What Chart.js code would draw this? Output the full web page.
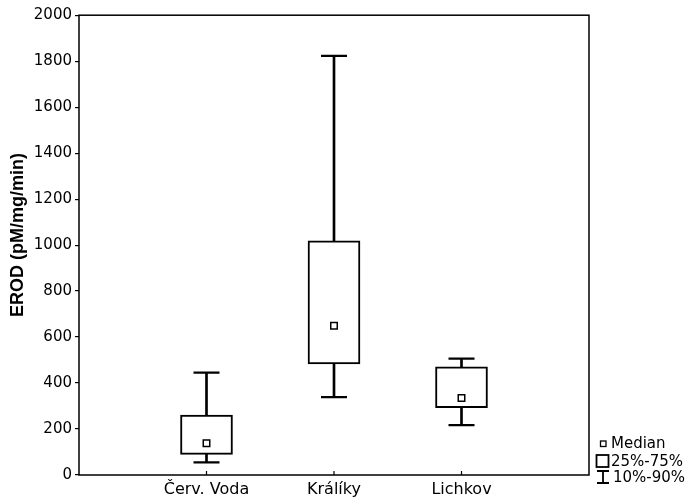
<!DOCTYPE html>
<html>
<head>
<meta charset="utf-8">
<script src="https://cdn.jsdelivr.net/npm/chart.js@4.4.1/dist/chart.umd.min.js"></script>
<style>
  html, body { margin: 0; padding: 0; background: #fff; }
  #wrap { width: 687px; height: 502px; }
</style>
</head>
<body>
<div id="wrap"><canvas id="erodChart"></canvas></div>
<script>
var categories = ['Červ. Voda', 'Králíky', 'Lichkov'];
var p10 = [55, 339, 217];
var p25 = [90, 483, 293];
var medians = [138, 649, 335];
var p75 = [261, 1019, 471];
var p90 = [445, 1823, 506];
var yTicks = [0, 200, 400, 600, 800, 1000, 1200, 1400, 1600, 1800, 2000];
var yTitle = 'EROD (pM/mg/min)';

var fontName = '"DejaVu Sans", Verdana, sans-serif';
var titleFont = 'bold 18px "Liberation Sans", Arial, Helvetica, sans-serif';

// frame round the plot, inward x ticks, y title and the legend on the right
var framePlugin = {
    id: 'frame',
    afterDraw: function (chart) {
        var ctx = chart.ctx;
        var a = chart.chartArea;
        var xs = chart.scales.x;
        ctx.save();
        ctx.strokeStyle = '#000';
        ctx.lineWidth = 1.5;
        ctx.strokeRect(a.left, a.top, a.right - a.left, a.bottom - a.top);
        ctx.lineWidth = 1.2;
        categories.forEach(function (c, i) {
            var px = xs.getPixelForValue(i + 1);
            ctx.beginPath();
            ctx.moveTo(px, a.bottom);
            ctx.lineTo(px, a.bottom - 4);
            ctx.stroke();
        });

        // y title
        ctx.fillStyle = '#000';
        ctx.save();
        ctx.translate(18, 235);
        ctx.rotate(-Math.PI / 2);
        ctx.font = titleFont;
        ctx.textAlign = 'center';
        ctx.textBaseline = 'middle';
        ctx.fillText(yTitle, 0, 0);
        ctx.restore();

        // legend
        ctx.font = '15px ' + fontName;
        ctx.textBaseline = 'middle';
        ctx.textAlign = 'left';
        ctx.lineWidth = 1.3;
        ctx.strokeRect(600.5, 441, 5.5, 5.5);
        ctx.fillText('Median', 611, 444);
        ctx.lineWidth = 1.8;
        ctx.strokeRect(596.5, 455, 12, 12);
        ctx.fillText('25%-75%', 611, 462);
        ctx.beginPath();
        ctx.moveTo(597, 471); ctx.lineTo(609, 471);
        ctx.moveTo(603, 471); ctx.lineTo(603, 483);
        ctx.moveTo(597, 483); ctx.lineTo(609, 483);
        ctx.stroke();
        ctx.fillText('10%-90%', 613, 478);
        ctx.restore();
    }
};

var ctx = document.getElementById('erodChart').getContext('2d');
var erodChartInstance = new Chart(ctx, {
    type: 'bar',
    data: {
        datasets: [
            {
                label: 'whisker',
                data: categories.map((c, i) => ({ x: i + 1, y: [p10[i], p90[i]] })),
                backgroundColor: '#000',
                borderWidth: 0,
                barThickness: 2,
                grouped: false,
                order: 4
            },
            {
                type: 'scatter',
                label: 'caps',
                data: categories.map((c, i) => ({ x: i + 1, y: p10[i] }))
                    .concat(categories.map((c, i) => ({ x: i + 1, y: p90[i] }))),
                pointStyle: 'line',
                pointRadius: 13,
                borderColor: '#000',
                borderWidth: 2.2,
                order: 3
            },
            {
                label: '25%-75%',
                data: categories.map((c, i) => ({ x: i + 1, y: [p25[i], p75[i]] })),
                backgroundColor: '#fff',
                borderColor: '#000',
                borderWidth: 2,
                borderSkipped: false,
                barThickness: 52,
                grouped: false,
                order: 2
            },
            {
                type: 'scatter',
                label: 'Median',
                data: categories.map((c, i) => ({ x: i + 1, y: medians[i] })),
                pointStyle: 'rect',
                pointRadius: 4.6,
                backgroundColor: '#fff',
                borderColor: '#000',
                borderWidth: 1.5,
                order: 1
            }
        ]
    },
    options: {
        responsive: true,
        maintainAspectRatio: false,
        animation: false,
        layout: {
            padding: { top: 15, right: 98, left: 0, bottom: 0 }
        },
        plugins: {
            legend: { display: false },
            tooltip: { enabled: false }
        },
        scales: {
            x: {
                type: 'linear',
                min: 0,
                max: 4,
                offset: false,
                afterBuildTicks: function (scale) {
                    scale.ticks = categories.map((c, i) => ({ value: i + 1 }));
                },
                afterFit: function (scale) {
                    scale.height = 27;
                },
                grid: { display: false, drawTicks: false, tickLength: 0 },
                border: { display: false },
                ticks: {
                    autoSkip: false,
                    maxRotation: 0,
                    padding: 5,
                    color: '#000',
                    font: { family: fontName, size: 16 },
                    callback: function (value) {
                        return categories[value - 1] || '';
                    }
                }
            },
            y: {
                min: 0,
                max: 2000,
                afterBuildTicks: function (scale) {
                    scale.ticks = yTicks.map(v => ({ value: v }));
                },
                afterFit: function (scale) {
                    scale.width = 79;
                },
                grid: {
                    display: true,
                    drawOnChartArea: false,
                    drawTicks: true,
                    tickLength: 4,
                    color: '#000',
                    lineWidth: 1.2
                },
                border: { display: false },
                ticks: {
                    padding: 3,
                    color: '#000',
                    font: { family: fontName, size: 15 },
                    callback: function (value) {
                        return String(value);
                    }
                },
                title: { display: false }
            }
        }
    },
    plugins: [framePlugin]
});
</script>
</body>
</html>
